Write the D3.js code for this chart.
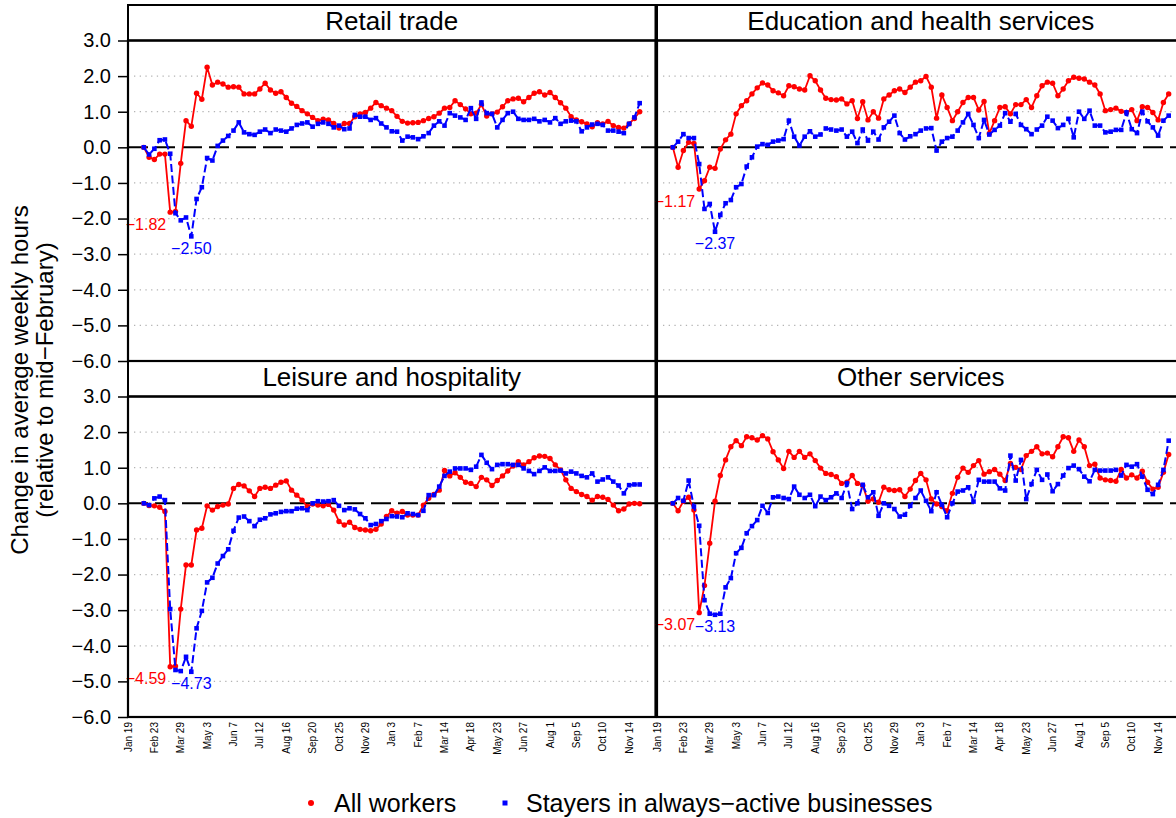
<!DOCTYPE html>
<html>
<head>
<meta charset="utf-8">
<script src="https://cdn.jsdelivr.net/npm/d3@7"></script>
<style>
  body { margin: 0; background: #fff; }
  svg { display: block; font-family: "Liberation Sans", Arial, Helvetica, sans-serif; }
</style>
</head>
<body>
<div id="chart"></div>
<script>

// --------------- Data --------------- //

const panelTitles = ["Retail trade", "Education and health services", "Leisure and hospitality", "Other services"];
const seriesNames = ["All workers", "Stayers in always\u2212active businesses"];

// weekly observations, first week below
const firstWeek = "2020-02-09";
const tickDates = ["2020-01-19", "2020-02-23", "2020-03-29", "2020-05-03", "2020-06-07",
    "2020-07-12", "2020-08-16", "2020-09-20", "2020-10-25", "2020-11-29",
    "2021-01-03", "2021-02-07", "2021-03-14", "2021-04-18", "2021-05-23",
    "2021-06-27", "2021-08-01", "2021-09-05", "2021-10-10", "2021-11-14"];
const yTicks = [3, 2, 1, 0, -1, -2, -3, -4, -5, -6];

const retailAll = [0.00, -0.28, -0.34, -0.19, -0.19, -1.82, -1.80, -0.45, 0.75, 0.59,
    1.52, 1.35, 2.25, 1.75, 1.83, 1.78, 1.69, 1.70, 1.69, 1.50,
    1.50, 1.50, 1.64, 1.80, 1.61, 1.52, 1.56, 1.40, 1.24, 1.15,
    1.03, 0.94, 0.84, 0.75, 0.79, 0.77, 0.67, 0.54, 0.67, 0.67,
    0.86, 0.94, 0.98, 1.10, 1.26, 1.17, 1.10, 1.03, 0.87, 0.73,
    0.68, 0.69, 0.70, 0.75, 0.81, 0.86, 0.96, 1.10, 1.12, 1.31,
    1.20, 1.08, 0.94, 0.96, 1.20, 0.88, 0.94, 0.99, 1.14, 1.31,
    1.36, 1.38, 1.28, 1.40, 1.52, 1.56, 1.47, 1.54, 1.40, 1.25,
    1.10, 0.86, 0.77, 0.72, 0.66, 0.58, 0.69, 0.66, 0.73, 0.61,
    0.56, 0.54, 0.66, 0.81, 1.00];
const retailStayers = [0.00, -0.20, -0.04, 0.20, 0.22, -0.18, -1.85, -2.05, -1.97, -2.50,
    -1.45, -1.12, -0.30, -0.37, 0.04, 0.19, 0.32, 0.47, 0.70, 0.42,
    0.37, 0.35, 0.44, 0.50, 0.40, 0.50, 0.47, 0.44, 0.53, 0.63,
    0.67, 0.70, 0.58, 0.66, 0.70, 0.66, 0.56, 0.61, 0.51, 0.53,
    0.91, 0.86, 0.86, 0.77, 0.82, 0.67, 0.56, 0.45, 0.44, 0.19,
    0.30, 0.28, 0.23, 0.31, 0.40, 0.61, 0.73, 0.61, 0.96, 0.89,
    0.84, 0.77, 1.10, 0.80, 1.26, 0.96, 0.94, 0.56, 0.77, 0.96,
    1.00, 0.80, 0.77, 0.77, 0.80, 0.73, 0.77, 0.70, 0.82, 0.66,
    0.73, 0.75, 0.73, 0.45, 0.56, 0.64, 0.66, 0.63, 0.47, 0.47,
    0.44, 0.40, 0.66, 0.84, 1.24];

const eduAll = [0.00, -0.56, -0.09, 0.14, 0.11, -1.17, -0.94, -0.56, -0.59, -0.05,
    0.21, 0.37, 0.94, 1.17, 1.31, 1.50, 1.67, 1.81, 1.75, 1.59,
    1.53, 1.45, 1.73, 1.70, 1.64, 1.61, 2.01, 1.87, 1.61, 1.38,
    1.34, 1.33, 1.36, 1.22, 1.31, 0.81, 1.28, 0.77, 1.00, 0.82,
    1.36, 1.47, 1.59, 1.64, 1.54, 1.69, 1.83, 1.87, 1.99, 1.69,
    0.82, 1.47, 1.12, 0.75, 1.00, 1.26, 1.40, 1.40, 1.05, 1.29,
    0.39, 0.75, 1.12, 1.14, 0.94, 1.20, 1.20, 1.34, 1.12, 1.45,
    1.73, 1.83, 1.80, 1.45, 1.64, 1.87, 1.97, 1.94, 1.92, 1.83,
    1.75, 1.50, 1.03, 1.06, 1.10, 1.01, 0.98, 1.06, 0.75, 1.14,
    1.12, 0.98, 0.77, 1.26, 1.50];
const eduStayers = [0.00, 0.16, 0.37, 0.26, 0.26, -0.47, -1.73, -1.59, -2.37, -1.90,
    -1.57, -1.48, -1.12, -1.03, -0.54, -0.28, 0.02, 0.09, 0.07, 0.16,
    0.19, 0.23, 0.75, 0.30, 0.05, 0.30, 0.45, 0.30, 0.36, 0.53,
    0.50, 0.47, 0.50, 0.30, 0.44, 0.12, 0.50, 0.19, 0.44, 0.22,
    0.56, 0.72, 0.89, 0.40, 0.22, 0.31, 0.37, 0.47, 0.53, 0.54,
    -0.09, 0.16, 0.26, 0.30, 0.47, 0.70, 0.94, 0.63, 0.26, 0.77,
    0.36, 0.49, 0.61, 0.96, 0.72, 0.94, 0.63, 0.51, 0.37, 0.50,
    0.61, 0.86, 0.75, 0.54, 0.63, 0.80, 0.28, 1.00, 0.80, 1.03,
    0.61, 0.61, 0.42, 0.44, 0.49, 0.49, 0.98, 0.51, 0.40, 1.00,
    0.73, 0.56, 0.33, 0.75, 0.89];

const leisureAll = [0.00, -0.06, -0.07, -0.11, -0.23, -4.59, -4.57, -2.97, -1.73, -1.73,
    -0.75, -0.70, -0.07, -0.19, -0.09, -0.05, -0.02, 0.42, 0.53, 0.49,
    0.35, 0.19, 0.42, 0.45, 0.42, 0.51, 0.59, 0.63, 0.37, 0.23,
    0.09, -0.09, -0.02, -0.05, -0.07, -0.03, -0.19, -0.51, -0.61, -0.53,
    -0.68, -0.73, -0.75, -0.77, -0.73, -0.58, -0.37, -0.21, -0.28, -0.23,
    -0.33, -0.33, -0.33, -0.05, 0.14, 0.25, 0.37, 0.92, 0.77, 0.86,
    0.73, 0.59, 0.56, 0.47, 0.73, 0.66, 0.50, 0.64, 0.77, 0.91,
    1.05, 1.17, 1.08, 1.17, 1.28, 1.33, 1.32, 1.26, 1.08, 0.94,
    0.66, 0.42, 0.33, 0.25, 0.19, 0.09, 0.19, 0.17, 0.11, -0.05,
    -0.21, -0.16, -0.02, 0.00, -0.01];
const leisureStayers = [0.00, -0.05, 0.14, 0.19, 0.09, -2.97, -4.68, -4.71, -4.31, -4.73,
    -3.51, -3.02, -2.22, -2.09, -1.69, -1.48, -1.29, -0.77, -0.40, -0.37,
    -0.50, -0.64, -0.46, -0.42, -0.31, -0.28, -0.24, -0.22, -0.22, -0.15,
    -0.14, -0.19, 0.00, 0.06, 0.05, 0.06, 0.09, -0.07, -0.19, -0.14,
    -0.17, -0.30, -0.42, -0.61, -0.58, -0.50, -0.44, -0.36, -0.37, -0.39,
    -0.28, -0.30, -0.33, -0.21, 0.23, 0.23, 0.47, 0.77, 0.89, 0.98,
    0.98, 0.98, 0.94, 1.03, 1.36, 1.14, 0.96, 1.08, 1.10, 1.10,
    1.08, 1.08, 0.98, 0.91, 0.82, 0.91, 1.01, 0.91, 0.91, 0.92,
    0.84, 0.89, 0.84, 0.77, 0.73, 0.84, 0.61, 0.67, 0.73, 0.61,
    0.50, 0.28, 0.51, 0.53, 0.53];

const otherAll = [0.00, -0.21, 0.06, 0.17, -0.19, -3.07, -2.31, -1.12, 0.06, 0.78,
    1.22, 1.59, 1.76, 1.62, 1.87, 1.84, 1.78, 1.90, 1.81, 1.45,
    1.22, 0.98, 1.46, 1.29, 1.46, 1.29, 1.39, 1.20, 0.99, 0.84,
    0.81, 0.75, 0.56, 0.59, 0.78, 0.56, 0.50, 0.06, 0.12, 0.03,
    0.45, 0.38, 0.36, 0.38, 0.19, 0.40, 0.64, 0.84, 0.66, 0.12,
    -0.02, -0.09, -0.21, 0.28, 0.73, 0.99, 0.87, 1.06, 1.20, 0.82,
    0.89, 0.95, 0.82, 0.64, 1.12, 1.01, 0.95, 1.34, 1.46, 1.59,
    1.39, 1.41, 1.31, 1.59, 1.87, 1.84, 1.46, 1.78, 1.59, 1.06,
    1.10, 0.71, 0.66, 0.64, 0.62, 0.95, 0.71, 0.80, 0.71, 0.90,
    0.59, 0.40, 0.45, 0.87, 1.37];
const otherStayers = [0.00, 0.15, 0.07, 0.64, -0.09, -0.63, -2.72, -3.10, -3.13, -3.10,
    -2.36, -2.10, -1.40, -1.25, -0.84, -0.64, -0.47, -0.07, -0.27, 0.17,
    0.19, 0.15, 0.12, 0.47, 0.24, 0.15, 0.24, -0.08, 0.19, 0.09,
    0.17, 0.28, 0.15, 0.56, -0.16, 0.00, 0.52, 0.17, 0.31, -0.35,
    0.00, -0.07, -0.16, -0.37, -0.32, -0.07, 0.15, 0.36, 0.07, -0.22,
    0.31, -0.04, -0.39, 0.00, 0.33, 0.36, 0.45, 0.05, 0.66, 0.61,
    0.61, 0.61, 0.42, 0.36, 1.34, 0.64, 1.22, 0.12, 0.54, 0.94,
    0.66, 0.81, 0.34, 0.54, 0.78, 0.99, 1.06, 0.96, 0.75, 0.62,
    0.94, 0.92, 0.92, 0.92, 0.94, 0.78, 1.08, 1.03, 1.10, 0.75,
    0.38, 0.26, 0.52, 0.94, 1.76];


// --------------- Basic Setup --------------- //

const width = 1176,
    height = 818;

const colX = [128, 657],
    colW = 527.5;
const rowTop = [5, 361],
    stripH = 35.5,
    plotH = 320.5;

const red = "#ff0000",
    blue = "#0000ff";

const svg = d3.select("#chart")
    .append("svg")
    .attr("width", width)
    .attr("height", height)
    .attr("viewBox", [0, 0, width, height]);

const parseDate = d3.utcParse("%Y-%m-%d");
const start = parseDate(firstWeek);
const ticks = tickDates.map(parseDate);
const xDomain = [ticks[0], d3.utcDay.offset(ticks[0], 700)];
const fmtTick = d3.utcFormat("%b %-d");
const fmt2 = d3.format(".2f");

const panels = [
    {title: panelTitles[0], all: retailAll, stay: retailStayers, col: 0, row: 0},
    {title: panelTitles[1], all: eduAll, stay: eduStayers, col: 1, row: 0},
    {title: panelTitles[2], all: leisureAll, stay: leisureStayers, col: 0, row: 1},
    {title: panelTitles[3], all: otherAll, stay: otherStayers, col: 1, row: 1}
];

const toPoints = arr => arr.map((v, i) => ({date: d3.utcDay.offset(start, 7 * i), v: v}));


// --------------- Build the Panels --------------- //

panels.forEach(p => {
    const x0 = colX[p.col],
        sTop = rowTop[p.row],
        pTop = sTop + stripH,
        pBot = pTop + plotH;

    const x = d3.scaleUtc().domain(xDomain).range([x0, x0 + colW]);
    const y = d3.scaleLinear().domain([-6, 3]).range([pBot, pTop]);

    const g = svg.append("g");

    // dotted grid
    g.selectAll(".grid")
        .data(yTicks.filter(t => t > -6 && t < 3 && t !== 0))
        .join("line")
        .attr("x1", x0 + 6).attr("x2", x0 + colW - 6)
        .attr("y1", d => y(d)).attr("y2", d => y(d))
        .attr("stroke", "#b4b4b4")
        .attr("stroke-width", 1.3)
        .attr("stroke-dasharray", "1.3,4.4");

    // zero line
    g.append("line")
        .attr("x1", x0).attr("x2", x0 + colW)
        .attr("y1", y(0)).attr("y2", y(0))
        .attr("stroke", "#000")
        .attr("stroke-width", 2)
        .attr("stroke-dasharray", "20,7");

    const line = d3.line().x(d => x(d.date)).y(d => y(d.v));
    const allPts = toPoints(p.all),
        stayPts = toPoints(p.stay);

    // All workers
    g.append("path")
        .attr("d", line(allPts))
        .attr("fill", "none")
        .attr("stroke", red)
        .attr("stroke-width", 1.8);
    g.selectAll(".pt-all")
        .data(allPts)
        .join("circle")
        .attr("cx", d => x(d.date))
        .attr("cy", d => y(d.v))
        .attr("r", 2.7)
        .attr("fill", red);

    // Stayers
    g.append("path")
        .attr("d", line(stayPts))
        .attr("fill", "none")
        .attr("stroke", blue)
        .attr("stroke-width", 2)
        .attr("stroke-dasharray", "8,3.5");
    g.selectAll(".pt-stay")
        .data(stayPts)
        .join("rect")
        .attr("x", d => x(d.date) - 2.3)
        .attr("y", d => y(d.v) - 2.3)
        .attr("width", 4.6)
        .attr("height", 4.6)
        .attr("fill", blue);

    // minimum labels
    const minAll = allPts[d3.minIndex(allPts, d => d.v)];
    const minStay = stayPts[d3.minIndex(stayPts, d => d.v)];
    g.append("text")
        .attr("x", x(minAll.date) - 4)
        .attr("y", y(minAll.v) + 12)
        .attr("dy", "0.35em")
        .attr("text-anchor", "end")
        .attr("font-size", 16)
        .attr("fill", red)
        .text(fmt2(minAll.v));
    g.append("text")
        .attr("x", x(minStay.date))
        .attr("y", y(minStay.v) + 12)
        .attr("dy", "0.35em")
        .attr("text-anchor", "middle")
        .attr("font-size", 16)
        .attr("fill", blue)
        .text(fmt2(minStay.v));

    // strip
    g.append("rect")
        .attr("x", x0).attr("y", sTop)
        .attr("width", colW).attr("height", stripH)
        .attr("fill", "none")
        .attr("stroke", "#000")
        .attr("stroke-width", 2);
    g.append("text")
        .attr("x", x0 + colW / 2)
        .attr("y", sTop + 24.5)
        .attr("text-anchor", "middle")
        .attr("font-size", 26)
        .text(p.title);

    // plot border
    g.append("rect")
        .attr("x", x0).attr("y", pTop)
        .attr("width", colW).attr("height", plotH)
        .attr("fill", "none")
        .attr("stroke", "#000")
        .attr("stroke-width", 2.2);

    // y axis on left column
    if (p.col === 0) {
        const ax = g.append("g")
            .attr("transform", `translate(${x0},0)`)
            .call(d3.axisLeft(y)
                .tickValues(yTicks)
                .tickFormat(d3.format(".1f"))
                .tickSize(10)
                .tickPadding(7));
        ax.select(".domain").remove();
        ax.selectAll("line").attr("stroke-width", 1.5);
        ax.selectAll("text")
            .attr("font-size", 20)
            .attr("font-family", "'Liberation Sans', Arial, Helvetica, sans-serif")
            .attr("fill", "#000");
    }

    // x tick labels under bottom row
    if (p.row === 1) {
        g.selectAll(".xlab")
            .data(ticks)
            .join("text")
            .attr("transform", d => `translate(${x(d)},${pBot + 5}) rotate(-90)`)
            .attr("dy", "0.35em")
            .attr("text-anchor", "end")
            .attr("font-size", 10)
            .text(d => fmtTick(d));
    }
});


// --------------- Axis Title & Legend --------------- //

const yTitle = svg.append("text")
    .attr("transform", "translate(28,380) rotate(-90)")
    .attr("text-anchor", "middle")
    .attr("font-size", 24);
yTitle.append("tspan").attr("x", 0).attr("y", 0).text("Change in average weekly hours");
yTitle.append("tspan").attr("x", 0).attr("y", 25).text("(relative to mid\u2212February)");

const legend = svg.append("g");
legend.append("circle")
    .attr("cx", 311).attr("cy", 803).attr("r", 3)
    .attr("fill", red);
legend.append("text")
    .attr("x", 334).attr("y", 811.5)
    .attr("font-size", 25)
    .text(seriesNames[0]);
legend.append("rect")
    .attr("x", 502.5).attr("y", 800.5)
    .attr("width", 5).attr("height", 5)
    .attr("fill", blue);
legend.append("text")
    .attr("x", 526).attr("y", 811.5)
    .attr("font-size", 25)
    .text(seriesNames[1]);

</script>
</body>
</html>
